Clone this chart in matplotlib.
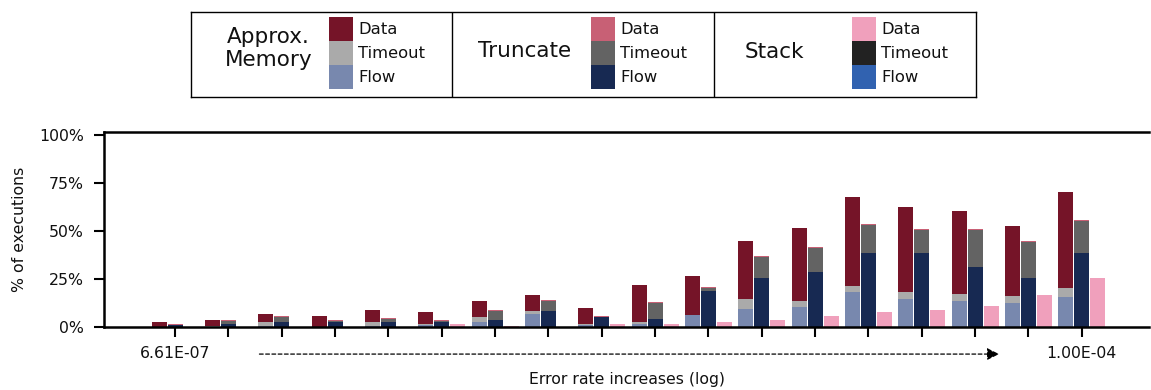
import numpy as np
import matplotlib.pyplot as plt
from matplotlib.patches import Rectangle

# =========================
# Podaci (% izvrsavanja) po nivou greske
# =========================
tick_labels = ["6.61E-07"] + [""] * 16 + ["1.00E-04"]

approx_flow    = [0.0, 0.2, 0.7, 0.1, 0.7, 1.0, 2.8, 6.9, 1.0, 1.7, 6.4, 9.5, 10.6, 18.4, 14.8, 13.7, 12.7, 15.8]
approx_timeout = [0.0, 0.3, 2.1, 0.2, 2.1, 0.7, 2.6, 1.6, 0.7, 1.0, 0.0, 5.2, 3.1, 3.1, 3.6, 3.6, 3.6, 4.7]
approx_data    = [2.8, 3.3, 4.3, 5.6, 6.2, 6.3, 8.3, 8.3, 8.4, 19.3, 20.3, 30.2, 38.0, 46.4, 44.3, 43.2, 36.5, 50.0]

trunc_flow     = [1.0, 1.7, 2.8, 2.8, 2.8, 2.8, 3.8, 8.5, 5.4, 4.3, 18.9, 25.7, 28.8, 38.7, 38.7, 31.4, 25.7, 38.7]
trunc_timeout  = [0.4, 1.6, 2.6, 0.5, 1.6, 0.5, 4.7, 5.2, 0.0, 8.3, 1.6, 10.9, 12.5, 14.6, 12.0, 19.3, 18.8, 16.7]
trunc_data     = [0.5, 0.5, 0.5, 0.5, 0.5, 0.5, 0.5, 0.5, 0.5, 0.5, 0.5, 0.5, 0.5, 0.5, 0.5, 0.5, 0.5, 0.5]

stack_flow     = [0.0] * 18
stack_timeout  = [0.0] * 18
stack_data     = [0.0, 0.0, 0.0, 0.0, 0.0, 1.7, 0.7, 0.0, 1.7, 1.7, 2.8, 3.8, 5.9, 8.0, 9.0, 11.1, 16.8, 25.7]

series = {
    "Approx.\nMemory": (approx_flow, approx_timeout, approx_data, ["#7888ae", "#aaaaaa", "#751428"]),
    "Truncate":        (trunc_flow, trunc_timeout, trunc_data, ["#172952", "#636363", "#c86075"]),
    "Stack":           (stack_flow, stack_timeout, stack_data, ["#3162b0", "#222222", "#f0a0bc"]),
}

# =========================
# Grafik
# =========================
fig = plt.figure(figsize=(11.51, 3.90), dpi=100)
ax = fig.add_axes([0.0904, 0.1608, 0.9079, 0.5015])

x = np.arange(len(tick_labels))
width = 0.28
offsets = [-0.3, 0.0, 0.3]

for off, (name, (flow, timeout, data, cols)) in zip(offsets, series.items()):
    flow = np.array(flow)
    timeout = np.array(timeout)
    data = np.array(data)
    ax.bar(x + off, flow, width, color=cols[0], linewidth=0)
    ax.bar(x + off, timeout, width, bottom=flow, color=cols[1], linewidth=0)
    ax.bar(x + off, data, width, bottom=flow + timeout, color=cols[2], linewidth=0)

ax.set_xlim(-1.331, 18.26)
ax.set_ylim(0, 101.8)
ax.set_yticks([0, 25, 50, 75, 100])
ax.set_yticklabels(["0%", "25%", "50%", "75%", "100%"], fontsize=11.3, color="#111111")
ax.set_xticks(x)
ax.set_xticklabels(tick_labels, fontsize=11.3, color="#111111")
ax.tick_params(axis="both", length=7, width=1.5, direction="out")
ax.tick_params(axis="y", pad=7.5)
ax.tick_params(axis="x", pad=6.5)
for s in ["left", "bottom", "top"]:
    ax.spines[s].set_linewidth(1.8)
ax.spines["right"].set_visible(False)

ax.set_ylabel("% of executions", fontsize=11.3, color="#111111", labelpad=9)
ax.set_xlabel("Error rate increases (log)", fontsize=11.3, color="#111111", labelpad=8)

ax.annotate("", xy=(15.5, -0.137), xytext=(1.53, -0.137),
            xycoords=("data", "axes fraction"), textcoords=("data", "axes fraction"),
            arrowprops=dict(arrowstyle="-|>", linestyle=(0, (3, 2)), lw=0.9,
                            color="black", mutation_scale=18), annotation_clip=False)

# =========================
# Legenda (rucno)
# =========================
lg = fig.add_axes([191 / 1151, 1 - 96.5 / 390, 785 / 1151, 85 / 390])
lg.set_xlim(0, 785)
lg.set_ylim(85, 0)
lg.set_xticks([])
lg.set_yticks([])
for s in lg.spines.values():
    s.set_linewidth(1.0)
for xd in [261, 523]:
    lg.plot([xd, xd], [0, 85], color="black", lw=1.0)

title_pos = [(77.7, 37), (334, 39.5), (583, 40)]
patch_x = [138, 400, 661]
for (tx, ty), px, (name, (_, _, _, cols)) in zip(title_pos, patch_x, series.items()):
    lg.text(tx, ty, name, fontsize=15.5, ha="center", va="center", color="#111111", linespacing=1.2)
    for i, (lab, c) in enumerate(zip(["Data", "Timeout", "Flow"], cols[::-1])):
        y0 = 5.2 + 24 * i
        lg.add_patch(Rectangle((px, y0), 24, 24, color=c, lw=0))
        lg.text(px + 29, y0 + 12.3, lab, fontsize=11.8, ha="left", va="center", color="#111111")

fig.savefig("out.png", dpi=100)
